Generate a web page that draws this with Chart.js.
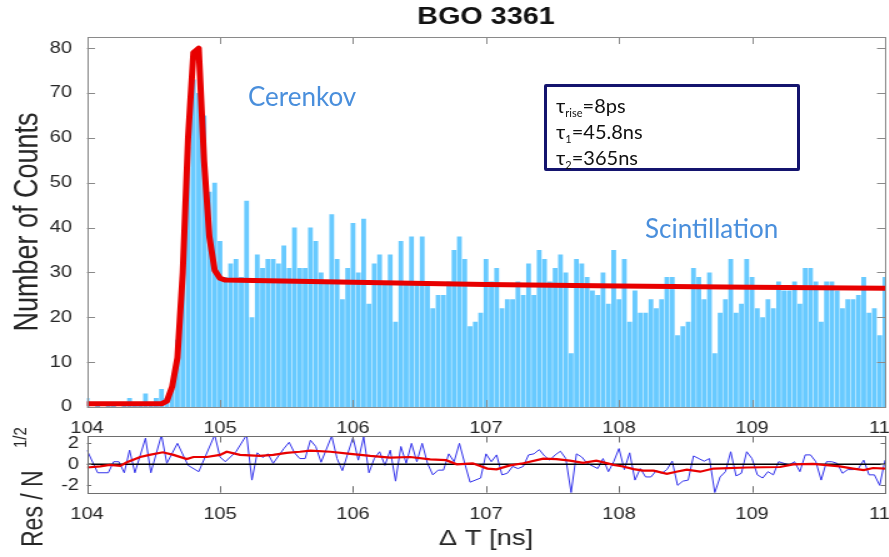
<!DOCTYPE html>
<html>
<head>
<meta charset="utf-8">
<script src="https://cdn.jsdelivr.net/npm/chart.js@4.4.1/dist/chart.umd.min.js"></script>
<style>
  html, body { margin: 0; padding: 0; background: #fff; }
  #page { position: relative; width: 889px; height: 557px; overflow: hidden; background: #fff; }
  /* plot canvases are drawn narrow and widened, so axis text gets the wide look */
  .stretch { position: absolute; left: 0; transform: scaleX(1.25); transform-origin: 0 0; }
  #main { top: 0; }
  #resid { top: 410px; }
  .note { position: absolute; font-family: Lato, 'Open Sans', sans-serif; color: #4a8fdc; font-size: 26px; line-height: 1; white-space: nowrap; }
  #params { position: absolute; left: 544px; top: 84px; width: 250px; height: 81px; border: 3px solid #14146e; border-radius: 2px; background: #fff;
            font-family: Lato, 'Open Sans', sans-serif; font-size: 20px; color: #111; }
  #params div { position: absolute; left: 9px; line-height: 1; white-space: nowrap; }
  #params sub { font-size: 11px; vertical-align: baseline; position: relative; top: 4px; }
</style>
</head>
<body>
<div id="page">
  <canvas id="main" class="stretch" width="740" height="445"></canvas>
  <canvas id="resid" class="stretch" width="740" height="147"></canvas>
  <div class="note" style="left:248px; top:83px">Cerenkov</div>
  <div class="note" style="left:645px; top:215px">Scintillation</div>
  <div id="params">
    <div style="top:8px">τ<sub>rise</sub>=8ps</div>
    <div style="top:34px">τ<sub>1</sub>=45.8ns</div>
    <div style="top:60px">τ<sub>2</sub>=365ns</div>
  </div>
</div>
<script>
// histogram: 151 bins of 40 ps, centred on 104.00 ... 110.00 ns
const counts = [
  2, 0, 1, 0, 1, 1, 0, 1, 2, 1,
  1, 3, 1, 2, 4, 2, 4, 15, 30, 58,
  73, 70, 65, 48, 50, 37, 29, 32, 33, 29,
  46, 20, 34, 31, 33, 33, 32, 36, 31, 40,
  31, 31, 40, 37, 30, 28, 43, 33, 24, 31,
  41, 30, 42, 23, 32, 34, 28, 34, 19, 37,
  28, 38, 28, 38, 28, 22, 25, 25, 28, 35,
  38, 33, 18, 19, 21, 33, 28, 31, 22, 24,
  24, 28, 25, 32, 25, 35, 33, 28, 31, 34,
  30, 12, 33, 32, 29, 26, 25, 30, 23, 35,
  24, 33, 19, 26, 21, 21, 24, 22, 24, 29,
  29, 16, 18, 19, 31, 29, 24, 30, 12, 21,
  24, 33, 21, 23, 33, 29, 22, 20, 24, 22,
  28, 26, 26, 28, 23, 31, 31, 28, 19, 28,
  28, 26, 22, 24, 24, 25, 29, 21, 22, 16,
  29
];
const binCenters = counts.map((_, i) => +(104 + 0.04 * i).toFixed(2));

// fitted rise + decay curve
const fitTime  = [104.00, 104.56, 104.60, 104.64, 104.68, 104.72, 104.76, 104.80, 104.84, 104.88, 104.92, 104.96, 105.00, 105.04, 106.00, 107.00, 108.00, 109.00, 110.00];
const fitValue = [0.7, 0.7, 1.3, 4.5, 11, 30, 60, 79, 80, 55, 38, 30.5, 28.7, 28.3, 27.8, 27.3, 27.0, 26.7, 26.5];

// residuals per bin (bin index, value)
const resBin = [0, 2, 4, 5, 6, 7, 8, 9, 11, 12, 14, 15, 17, 19, 21, 24, 25, 26, 28, 30,
  31, 32, 33, 34, 35, 37, 38, 39, 40, 41, 42, 43, 44, 46, 47, 48, 49, 50, 51, 52,
  53, 54, 55, 56, 57, 58, 59, 60, 61, 62, 63, 64, 65, 66, 67, 68, 69, 70, 71, 72,
  74, 75, 76, 77, 78, 79, 80, 81, 82, 83, 84, 85, 86, 87, 88, 89, 90, 91, 92, 93,
  94, 96, 97, 98, 99, 100, 101, 102, 103, 104, 105, 106, 107, 108, 109, 110, 111, 112, 113, 114,
  115, 116, 117, 118, 119, 120, 121, 122, 123, 124, 125, 126, 127, 128, 129, 130, 131, 132, 133, 134,
  135, 136, 137, 138, 139, 140, 141, 142, 143, 144, 145, 146, 147, 148, 149, 150];
const resValue = [1.35, -0.8, -0.8, 0.25, 0.25, -0.8, 1.35, -0.8, 2.5, -0.8, 2.8, 0.1, 2.0, -0.1, -0.7, 2.8, 0.7, 0.25, 1.2, 2.8,
  -1.5, 1.1, 0.65, 1.0, 0.1, 1.5, 2.1, 1.1, 0.55, 0.55, 2.3, 1.7, 0.2, 2.7, 0.55, -0.6, 1.0, 2.55, 0.4, 2.6,
  -0.8, 0.55, 1.2, -0.1, 1.35, -1.6, 1.7, 0.1, 2.0, 0.25, 2.0, 0.1, -1.0, -0.55, -0.55, 1.0, 0.25, 2.0, 0.1, -1.7,
  -1.3, 1.0, 0.25, 0.9, -1.0, -0.85, -0.2, -0.4, -0.2, 0.9, 1.0, 1.4, 0.8, 0.4, 0.9, 1.25, 0.55, -2.7, 1.0, 0.7,
  0.1, -0.4, 0.55, -0.7, 0.25, 1.5, -0.5, 1.1, -1.5, -0.4, -1.2, -1.2, -0.6, -0.85, -0.5, 0.3, -2.0, -1.6, -1.5, 0.8,
  0.55, 0.3, 0.55, -2.7, -1.2, -0.7, 1.2, -1.1, -0.85, 1.2, 0.55, -1.0, -1.3, -0.7, -1.0, 0.25, 0.1, -0.05, 0.25, -0.7,
  0.9, 0.9, 0.25, -1.5, 0.25, 0.25, 0.1, -0.85, -0.5, -0.5, -0.4, 0.4, -1.0, -1.0, -2.0, 0.4];

// running mean of the residuals
const smoothTime  = [104.00, 104.10, 104.17, 104.25, 104.30, 104.40, 104.47, 104.57, 104.65, 104.75, 104.80, 104.90, 105.00, 105.05, 105.15, 105.30, 105.40, 105.50, 105.60, 105.68,
  105.83, 105.98, 106.13, 106.28, 106.43, 106.58, 106.70, 106.78, 106.90, 107.01, 107.08, 107.18, 107.28, 107.43, 107.53, 107.63, 107.73, 107.83, 107.96, 108.03,
  108.11, 108.18, 108.26, 108.36, 108.43, 108.51, 108.61, 108.71, 108.96, 109.21, 109.31, 109.46, 109.66, 109.76, 109.84, 109.91, 110.00];
const smoothValue = [-0.3, -0.2, -0.05, -0.15, 0.2, 0.7, 0.9, 1.15, 0.9, 0.5, 0.7, 0.7, 0.9, 1.2, 0.9, 0.8, 0.9, 1.1, 1.2, 1.3,
  1.2, 1.0, 0.8, 0.65, 0.7, 0.47, 0.4, 0.0, 0.1, -0.4, -0.47, -0.1, 0.1, 0.55, 0.5, 0.35, 0.15, 0.35, -0.05, -0.2,
  -0.45, -0.6, -0.6, -0.9, -0.7, -0.5, -0.7, -0.4, -0.3, -0.25, 0.0, 0.05, -0.2, -0.4, -0.55, -0.35, -0.4];

const zeroTime = [104, 110];
const zeroValue = [0, 0];

const xTicks = [104, 105, 106, 107, 108, 109, 110];
const yTicks = [0, 10, 20, 30, 40, 50, 60, 70, 80];
const resTicks = [-2, 0, 2];

const BAR = 'rgb(104, 202, 255)';
const RED = 'rgb(232, 0, 0)';
const BLUE = 'rgb(50, 50, 235)';
const AXIS = '#262626';

Chart.defaults.font.family = "'Liberation Sans', Arial, sans-serif";
Chart.defaults.color = AXIS;

const pts = (xs, ys) => xs.map((x, i) => ({ x, y: ys[i] }));

// box around the plot area with inward tick marks on all four sides
const axesFrame = {
  id: 'axesFrame',
  afterDatasetsDraw(chart, args, opts) {
    const { ctx, chartArea: a, scales } = chart;
    ctx.save();
    ctx.strokeStyle = opts.color;
    ctx.lineWidth = 1;
    ctx.beginPath();
    for (const t of scales.x.ticks) {
      const px = Math.round(scales.x.getPixelForValue(t.value)) + 0.5;
      ctx.moveTo(px, a.bottom); ctx.lineTo(px, a.bottom - opts.lenX);
      ctx.moveTo(px, a.top); ctx.lineTo(px, a.top + opts.lenX);
    }
    for (const t of scales.y.ticks) {
      const py = Math.round(scales.y.getPixelForValue(t.value)) + 0.5;
      ctx.moveTo(a.left, py); ctx.lineTo(a.left + opts.lenY, py);
      ctx.moveTo(a.right, py); ctx.lineTo(a.right - opts.lenY, py);
    }
    ctx.stroke();
    ctx.strokeRect(Math.round(a.left) + 0.5, Math.round(a.top) + 0.5, Math.round(a.right - a.left), Math.round(a.bottom - a.top));
    ctx.restore();
  }
};

// "Res / N^1/2" written sideways, with the exponent raised
const resLabel = {
  id: 'resLabel',
  afterDraw(chart) {
    const { ctx } = chart;
    ctx.save();
    ctx.fillStyle = AXIS;
    ctx.translate(33.6, 137);
    ctx.rotate(-Math.PI / 2);
    ctx.textBaseline = 'alphabetic';
    ctx.font = "23px 'Liberation Sans', Arial, sans-serif";
    ctx.fillText('Res / N', 0, 0);
    ctx.font = "15px 'Liberation Sans', Arial, sans-serif";
    ctx.fillText('1/2', 99, -12.8);
    ctx.restore();
  }
};

const setTicks = list => scale => { scale.ticks = list.map(v => ({ value: v })); };

new Chart(document.getElementById('main'), {
  type: 'bar',
  data: {
    datasets: [
      {
        type: 'line', data: pts(fitTime, fitValue), borderColor: RED, borderWidth: 5,
        pointRadius: 0, tension: 0, borderJoinStyle: 'round', borderCapStyle: 'round', order: 0, clip: 0
      },
      {
        type: 'bar', data: pts(binCenters, counts), backgroundColor: BAR, borderWidth: 0,
        barPercentage: 0.9, categoryPercentage: 1, order: 1, clip: 0
      }
    ]
  },
  options: {
    responsive: false,
    animation: false,
    devicePixelRatio: 1,
    layout: { padding: { left: 0, right: 32, top: 0, bottom: 0 } },
    plugins: {
      legend: { display: false },
      tooltip: { enabled: false },
      title: {
        display: true, text: 'BGO 3361', fullSize: false, color: '#111',
        font: { size: 23, weight: 'bold' }, padding: { top: 4, bottom: 5.4 }
      },
      axesFrame: { color: '#8a8a8a', lenX: 7, lenY: 6.4 }
    },
    scales: {
      x: {
        type: 'linear', min: 104, max: 110, offset: false,
        grid: { display: false, drawTicks: false }, border: { display: false },
        ticks: { font: { size: 16 }, padding: 12, maxRotation: 0 },
        afterBuildTicks: setTicks(xTicks),
        afterFit: s => { s.height = 38; }
      },
      y: {
        min: 0, max: 82.5,
        grid: { display: false, drawTicks: false }, border: { display: false },
        ticks: { font: { size: 16 }, padding: 12 },
        afterBuildTicks: setTicks(yTicks),
        afterFit: s => { s.width = 69.6; },
        title: { display: true, text: 'Number of Counts', font: { size: 27 }, padding: { top: 6, bottom: 0 } }
      }
    }
  },
  plugins: [axesFrame]
});

new Chart(document.getElementById('resid'), {
  type: 'line',
  data: {
    datasets: [
      {
        data: pts(smoothTime, smoothValue), borderColor: RED, borderWidth: 2.2,
        pointRadius: 0, tension: 0, order: 0, clip: 0
      },
      {
        data: pts(zeroTime, zeroValue), borderColor: '#000', borderWidth: 1.5,
        pointRadius: 0, order: 1, clip: 0
      },
      {
        data: pts(resBin.map(i => binCenters[i]), resValue), borderColor: BLUE, borderWidth: 1,
        pointRadius: 0, tension: 0, order: 2, clip: 0
      }
    ]
  },
  options: {
    responsive: false,
    animation: false,
    devicePixelRatio: 1,
    layout: { padding: { left: 0, right: 32, top: 26, bottom: 0 } },
    plugins: {
      legend: { display: false },
      tooltip: { enabled: false },
      axesFrame: { color: '#6e6e6e', lenX: 6.5, lenY: 3.5 }
    },
    scales: {
      x: {
        type: 'linear', min: 104, max: 110,
        grid: { display: false, drawTicks: false }, border: { display: false },
        ticks: { font: { size: 16 }, padding: 12, maxRotation: 0 },
        afterBuildTicks: setTicks(xTicks),
        afterFit: s => { s.height = 64.3; },
        title: { display: true, text: 'Δ T [ns]', font: { size: 22 }, padding: { top: 0, bottom: 5 } }
      },
      y: {
        min: -2.7, max: 2.7,
        grid: { display: false, drawTicks: false }, border: { display: false },
        ticks: { font: { size: 16 }, padding: 6.4 },
        afterBuildTicks: setTicks(resTicks),
        afterFit: s => { s.width = 69.6; }
      }
    }
  },
  plugins: [axesFrame, resLabel]
});
</script>
</body>
</html>
